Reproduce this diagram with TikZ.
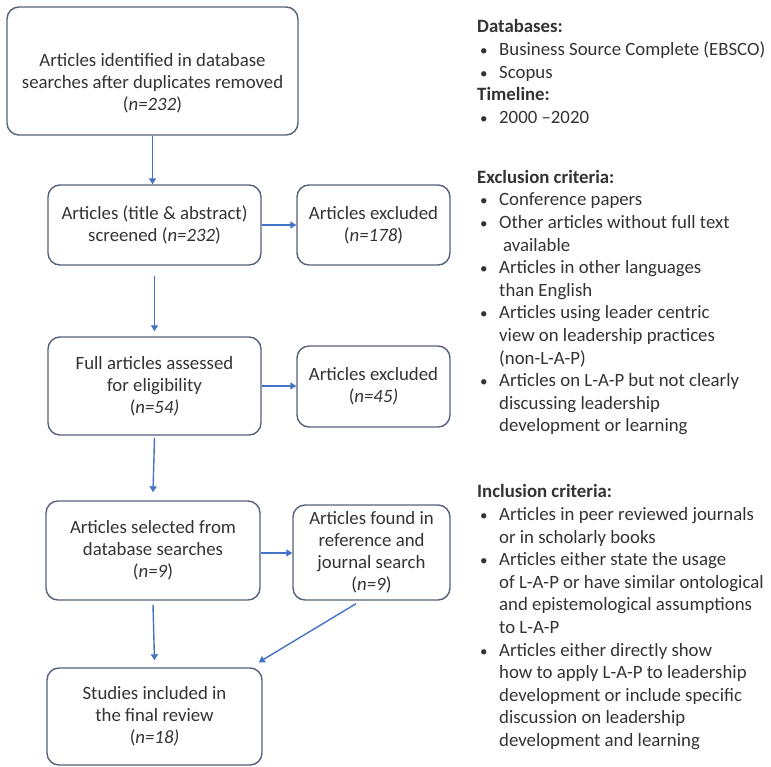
\documentclass[tikz,border=0pt]{standalone}
\usepackage{fontspec}
\setmainfont{Carlito}
\usetikzlibrary{arrows.meta}
\definecolor{boxline}{HTML}{56627A}
\definecolor{arrowblue}{HTML}{4472C4}
\definecolor{txt}{HTML}{333333}
\tikzset{
  flowbox/.style={draw=boxline, line width=1.4pt, rounded corners=12pt, fill=white,
    align=center, text=txt, font=\fontsize{18.8}{22}\selectfont, inner sep=0pt},
  boxtext/.style={align=center, text=txt, font=\fontsize{18.8}{22}\selectfont, inner sep=0pt},
  flowarrow/.style={draw=arrowblue, line width=1.4pt, -{Triangle[width=7pt,length=6pt]}},
  sidetext/.style={align=left, text=txt, anchor=north west, inner sep=0pt,
    font=\fontsize{18.8}{22.6}\selectfont},
}
\newcommand{\bul}{\hspace*{3pt}\makebox[19pt][l]{\fontsize{15}{15}\selectfont •}}
\newcommand{\cont}{\hspace*{22pt}}
\begin{document}
\begin{tikzpicture}[x=1pt,y=1pt]
\useasboundingbox (0,0) rectangle (771,-767);
% boxes
\node[flowbox, minimum width=291pt, minimum height=128pt] (b1) at (152.5,-71) {};
\node[boxtext] (t1) at ([yshift=-12.5pt]b1.center) {Articles identified in database\\searches after duplicates removed\\(\textit{n=232})};
\node[flowbox, minimum width=213pt, minimum height=80pt] (b2) at (154.5,-225) {Articles (title \& abstract)\\screened (\textit{n=232})};
\node[flowbox, minimum width=153pt, minimum height=80pt] (b3) at (373.5,-225) {Articles excluded\\(\textit{n=178})};
\node[flowbox, minimum width=213pt, minimum height=98pt] (b4) at (154.5,-386) {Full articles assessed\\for eligibility\\(\textit{n=54)}};
\node[flowbox, minimum width=153pt, minimum height=81pt] (b5) at (373.5,-386.5) {Articles excluded\\(\textit{n=45)}};
\node[flowbox, minimum width=214pt, minimum height=99pt] (b6) at (153,-550.5) {Articles selected from\\database searches\\(\textit{n=9})};
\node[flowbox, minimum width=157pt, minimum height=95pt] (b7) at (371.5,-552.5) {Articles found in\\reference and\\journal search\\(\textit{n=9})};
\node[flowbox, minimum width=215pt, minimum height=97pt] (b8) at (154.5,-716.5) {Studies included in\\the final review\\(\textit{n=18)}};
% arrows
\coordinate (a67) at ([yshift=-2.5pt]b6.east);
\draw[flowarrow] (b1.south) -- (b1.south |- b2.north);
\draw[flowarrow] (b2.east) -- (b3.west);
\draw[flowarrow] ([yshift=-10pt]b2.south) -- ([yshift=5pt]b4.north);
\draw[flowarrow] (b4.east) -- (b5.west |- b4.east);
\draw[flowarrow] ([yshift=-2pt]b4.south) -- ([yshift=8pt]b6.north);
\draw[flowarrow] (a67) -- (b7.west |- a67);
\draw[flowarrow] ([yshift=-4pt]b6.south) -- ([yshift=7pt]b8.north);
\draw[flowarrow] ([xshift=-15.5pt,yshift=-3pt]b7.south) -- ([xshift=-4pt,yshift=5pt]b8.north east);
% side text
\node[sidetext] (db) at (477,-19.5) {\textbf{Databases:}\\
\bul Business Source Complete (EBSCO)\\
\bul Scopus\\
\textbf{Timeline:}\\
\bul 2000 –2020};
\node[sidetext] (ex) at (477,-170) {\textbf{Exclusion criteria:}\\
\bul Conference papers\\
\bul Other articles without full text\\
\cont\hspace*{4pt}available\\
\bul Articles in other languages\\
\cont than English\\
\bul Articles using leader centric\\
\cont view on leadership practices\\
\cont (non-L-A-P)\\
\bul Articles on L-A-P but not clearly\\
\cont discussing leadership\\
\cont development or learning};
\node[sidetext] (in) at (477,-484.5) {\textbf{Inclusion criteria:}\\
\bul Articles in peer reviewed journals\\
\cont or in scholarly books\\
\bul Articles either state the usage\\
\cont of L-A-P or have similar ontological\\
\cont and epistemological assumptions\\
\cont to L-A-P\\
\bul Articles either directly show\\
\cont how to apply L-A-P to leadership\\
\cont development or include specific\\
\cont discussion on leadership\\
\cont development and learning};
\end{tikzpicture}
\end{document}
